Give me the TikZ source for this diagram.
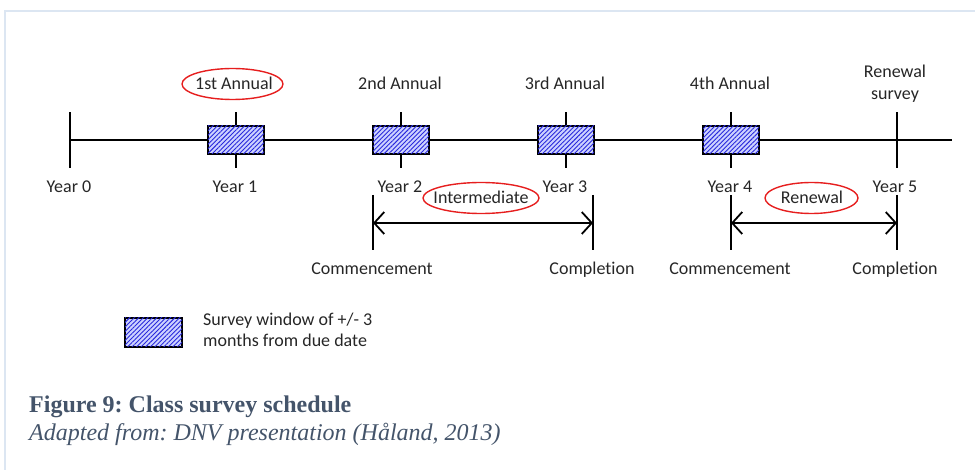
\documentclass[tikz,border=0pt]{standalone}
\usepackage{fontspec}
\setmainfont{Carlito}[Ligatures=NoCommon]
\newfontfamily\capfont{Liberation Serif}
\usetikzlibrary{arrows.meta,patterns.meta,shapes.geometric}
\definecolor{framec}{RGB}{220,230,242}
\definecolor{capc}{RGB}{68,84,106}
\definecolor{ringc}{RGB}{230,30,30}
\definecolor{hatchfill}{RGB}{205,210,255}
\definecolor{hatchline}{RGB}{40,40,220}
\tikzset{
  lbl/.style={font=\fontsize{18}{22}\selectfont, text=black!85, inner sep=0pt, anchor=base},
  tick/.style={line width=2.2pt, black},
  axis/.style={line width=1.8pt, black},
  winbox/.style={draw=black, line width=1.8pt, minimum width=56pt, minimum height=28pt,
    inner sep=0pt, fill=hatchfill,
    postaction={pattern={Lines[angle=45,distance=3.2pt,line width=0.9pt]}, pattern color=hatchline}},
  ring/.style={ellipse, draw=ringc, line width=1.4pt, inner sep=0pt},
  span/.style={line width=1.8pt, {Straight Barb[length=10pt,width=22pt]}-{Straight Barb[length=10pt,width=22pt]}},
  captext/.style={anchor=base west, inner sep=0pt, text=capc},
}
\begin{document}
\frenchspacing
\begin{tikzpicture}[x=1pt,y=-1pt]
\useasboundingbox (0,0) rectangle (975,470);
% light frame along the top and left edge
\draw[framec, line width=2pt] (5,470) -- (5,11) -- (975,11);

% time axis
\coordinate (y0) at (70,140);
\coordinate (y1) at (236,140);
\coordinate (y2) at (401,140);
\coordinate (y3) at (566,140);
\coordinate (y4) at (731,140);
\coordinate (y5) at (897,140);
\coordinate (axend) at (952,140);
\draw[axis] (y0) -- (axend);

% year ticks
\foreach \p in {y0,y1,y2,y3,y4,y5}
  \draw[tick] ([yshift=-28pt]\p) -- ([yshift=28pt]\p);

% survey windows
\node[winbox] (w1) at (y1) {};
\node[winbox] (w2) at (y2) {};
\node[winbox] (w3) at (y3) {};
\node[winbox] (w4) at (y4) {};

% survey names above the axis
\node[lbl] (a1) at (234,90) {1st Annual};
\node[lbl] (a2) at (400,90) {2nd Annual};
\node[lbl] (a3) at (565,90) {3rd Annual};
\node[lbl] (a4) at (730,90) {4th Annual};
\node[lbl] (rs1) at (895,78) {Renewal};
\node[lbl] (rs2) at (895,100) {survey};
\node[ring, minimum width=101pt, minimum height=31pt] (ring1) at (232.5,84) {};

% year labels below the axis
\node[lbl] (l0) at (69,193) {Year 0};
\node[lbl] (l1) at (235,193) {Year 1};
\node[lbl] (l2) at (400,193) {Year 2};
\node[lbl] (l3) at (565,193) {Year 3};
\node[lbl] (l4) at (730,193) {Year 4};
\node[lbl] (l5) at (895,193) {Year 5};

% intermediate survey span
\coordinate (ia) at (373,223);
\coordinate (ib) at (593,223);
\draw[tick] (373,195) -- (373,250);
\draw[tick] (593,195) -- (593,250);
\draw[span] (ia) -- (ib);
\node[lbl] (it) at (481,204) {Intermediate};
\node[ring, minimum width=116pt, minimum height=31pt] (ring2) at (481,198) {};
\node[lbl] (ic) at (372,275) {Commencement};
\node[lbl] (ie) at (592,275) {Completion};

% renewal survey span
\coordinate (ra) at (731,223);
\coordinate (rb) at (897,223);
\draw[tick] (731,195) -- (731,250);
\draw[tick] (897,195) -- (897,250);
\draw[span] (ra) -- (rb);
\node[lbl] (rt) at (812,204) {Renewal};
\node[ring, minimum width=93pt, minimum height=31pt] (ring3) at (811.5,198) {};
\node[lbl] (rc) at (730,275) {Commencement};
\node[lbl] (re) at (895,275) {Completion};

% legend
\node[winbox, minimum width=57pt, minimum height=29pt] (key) at (153.5,332.5) {};
\node[lbl, anchor=base west] (k1) at (203,326) {Survey window of +/- 3};
\node[lbl, anchor=base west] (k2) at (203,347) {months from due date};

% caption
\node[captext, font=\capfont\bfseries\fontsize{24}{27}\selectfont] (cap) at (29,413) {Figure 9: Class survey schedule};
\node[captext, font=\capfont\itshape\fontsize{24}{27}\selectfont] (src) at (29,440) {Adapted from: DNV presentation (Håland, 2013)};
\end{tikzpicture}
\end{document}
